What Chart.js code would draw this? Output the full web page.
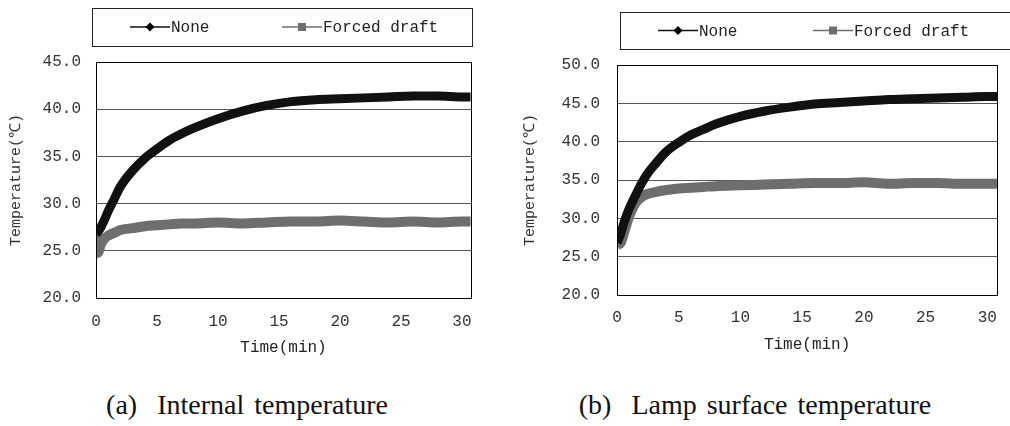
<!DOCTYPE html>
<html>
<head>
<meta charset="utf-8">
<script src="https://cdn.jsdelivr.net/npm/chart.js@4.4.0/dist/chart.umd.min.js"></script>
<style>
  body { margin: 0; background: #fff; width: 1010px; height: 426px; overflow: hidden; position: relative; }
  canvas { position: absolute; top: 0; }
  #chartA { left: 0; }
  #chartB { left: 520px; }
  .caption { position: absolute; top: 389px; font: 28px "Liberation Serif", serif; color: #111; white-space: pre; word-spacing: 3px; transform: translateX(-50%); }
</style>
</head>
<body>
<canvas id="chartA" width="490" height="370"></canvas>
<canvas id="chartB" width="490" height="370"></canvas>
<div class="caption" style="left:247px">(a)  Internal temperature</div>
<div class="caption" style="left:755px">(b)  Lamp surface temperature</div>
<script>
// (a) internal temperature
const timeA = [0, 0.15, 0.4, 0.7, 1, 1.5, 2, 3, 4, 5, 6, 7, 8, 10, 12, 14, 16, 18, 20, 22, 24, 26, 28, 30, 30.7];
const noneA = [26.8, 27.0, 27.5, 28.3, 29.2, 30.5, 31.8, 33.5, 34.8, 35.8, 36.7, 37.4, 38.0, 39.0, 39.8, 40.4, 40.8, 41.0, 41.1, 41.2, 41.3, 41.4, 41.4, 41.3, 41.3];
const forcedA = [27.2, 24.8, 25.7, 26.3, 26.6, 26.9, 27.2, 27.4, 27.6, 27.7, 27.8, 27.9, 27.9, 28.0, 27.9, 28.0, 28.1, 28.1, 28.2, 28.1, 28.0, 28.1, 28.0, 28.1, 28.1];

// (b) lamp surface temperature
const timeB = [0, 0.3, 0.6, 1, 1.5, 2, 2.5, 3, 4, 5, 6, 7, 8, 10, 12, 14, 16, 18, 20, 22, 24, 26, 28, 30, 30.8];
const noneB = [26.8, 28.0, 29.6, 31.3, 33.0, 34.6, 35.9, 36.9, 38.7, 39.9, 40.9, 41.6, 42.3, 43.3, 44.0, 44.5, 44.9, 45.1, 45.3, 45.5, 45.6, 45.7, 45.8, 45.9, 45.9];
const forcedB = [26.5, 26.8, 28.3, 30.3, 32.0, 32.8, 33.2, 33.4, 33.7, 33.9, 34.0, 34.1, 34.2, 34.3, 34.4, 34.5, 34.6, 34.6, 34.7, 34.5, 34.6, 34.6, 34.5, 34.5, 34.5];

const seriesNames = ['None', 'Forced draft'];
const xTitle = 'Time(min)';
const yTitle = 'Temperature(\u2103)';

const MONO = '"Liberation Mono", monospace';
const BLACK = '#111111';
const GRAY = '#6e6e6e';

const toPoints = (xs, ys) => xs.map((x, i) => ({ x: x, y: ys[i] }));

// legend drawn as a framed box, line + marker like the original
const boxLegend = {
  id: 'boxLegend',
  afterDraw(chart, args, opts) {
    const ctx = chart.ctx;
    const [bx, by, bw, bh] = opts.box;
    ctx.save();
    ctx.strokeStyle = '#222';
    ctx.lineWidth = 1;
    ctx.strokeRect(bx + 0.5, by + 0.5, bw, bh);
    const cy = by + bh / 2;
    ctx.font = '16px ' + MONO;
    ctx.textBaseline = 'middle';
    chart.data.datasets.forEach((ds, i) => {
      const x0 = opts.items[i];
      ctx.strokeStyle = ds.borderColor;
      ctx.lineWidth = 1.5;
      ctx.beginPath();
      ctx.moveTo(x0, cy);
      ctx.lineTo(x0 + 40, cy);
      ctx.stroke();
      ctx.fillStyle = i === 0 ? '#000' : GRAY;
      ctx.beginPath();
      if (i === 0) {
        ctx.moveTo(x0 + 20, cy - 4.5);
        ctx.lineTo(x0 + 24.5, cy);
        ctx.lineTo(x0 + 20, cy + 4.5);
        ctx.lineTo(x0 + 15.5, cy);
      } else {
        ctx.rect(x0 + 16, cy - 4, 8, 8);
      }
      ctx.fill();
      ctx.fillStyle = '#222';
      ctx.fillText(ds.label, x0 + 41, cy + 1);
    });
    ctx.restore();
  }
};

const frame = {
  id: 'frame',
  afterDatasetsDraw(chart) {
    const { ctx, chartArea: a } = chart;
    ctx.save();
    ctx.strokeStyle = '#000';
    ctx.lineWidth = 1;
    ctx.strokeRect(Math.round(a.left) + 0.5, Math.round(a.top) + 0.5, Math.round(a.right - a.left), Math.round(a.bottom - a.top));
    ctx.restore();
  }
};

function makeChart(id, cfg) {
  new Chart(document.getElementById(id), {
    type: 'line',
    data: {
      datasets: [
        { label: seriesNames[0], data: toPoints(cfg.time, cfg.none), borderColor: BLACK, borderWidth: 9 },
        { label: seriesNames[1], data: toPoints(cfg.time, cfg.forced), borderColor: GRAY, borderWidth: 10 }
      ]
    },
    options: {
      responsive: false,
      animation: false,
      devicePixelRatio: 1,
      layout: { padding: { top: cfg.top, right: cfg.right, left: 0, bottom: 0 } },
      elements: {
        point: { radius: 0 },
        line: { cubicInterpolationMode: 'monotone', borderJoinStyle: 'round', fill: false }
      },
      plugins: {
        legend: { display: false },
        tooltip: { enabled: false },
        boxLegend: { box: cfg.legendBox, items: cfg.legendItems }
      },
      scales: {
        x: {
          type: 'linear',
          min: 0,
          max: cfg.xMax,
          afterFit: s => { s.height = cfg.xHeight; },
          grid: { display: false, drawTicks: false },
          border: { color: '#000', width: 1 },
          ticks: { stepSize: 5, includeBounds: false, padding: cfg.xTickPad, color: '#333', font: { family: MONO, size: 16 } },
          title: { display: true, text: xTitle, color: '#222', font: { family: MONO, size: 16 }, padding: { top: 0, bottom: cfg.xTitlePad } }
        },
        y: {
          min: 20,
          max: cfg.yMax,
          afterFit: s => { s.width = cfg.yWidth; },
          grid: { color: '#555', lineWidth: 1, drawTicks: false },
          border: { color: '#000', width: 1 },
          ticks: { stepSize: 5, padding: cfg.yTickPad, color: '#333', font: { family: MONO, size: 16 }, callback: v => v.toFixed(1) },
          title: { display: true, text: yTitle, color: '#333', font: { family: MONO, size: 15 }, padding: { top: cfg.yTitlePad, bottom: 0 } }
        }
      }
    },
    plugins: [frame, boxLegend]
  });
}

makeChart('chartA', {
  time: timeA, none: noneA, forced: forcedA,
  xMax: 30.74, yMax: 45,
  top: 62, right: 19, xHeight: 72, yWidth: 96,
  xTickPad: 14, xTitlePad: 13, yTickPad: 15, yTitlePad: 7,
  legendBox: [92, 8, 380, 38], legendItems: [130, 282]
});

makeChart('chartB', {
  time: timeB, none: noneB, forced: forcedB,
  xMax: 30.8, yMax: 50,
  top: 65, right: 3, xHeight: 75, yWidth: 97,
  xTickPad: 13, xTitlePad: 16, yTickPad: 17, yTitlePad: 1,
  legendBox: [100, 12, 400, 37], legendItems: [138, 293]
});
</script>
</body>
</html>
